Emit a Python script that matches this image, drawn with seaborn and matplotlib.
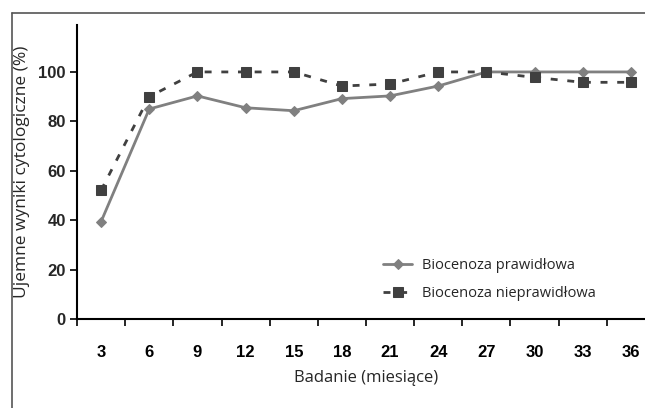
import numpy as np
import pandas as pd
import matplotlib
matplotlib.use("Agg")
import matplotlib.pyplot as plt
import seaborn as sns
from matplotlib.lines import Line2D

months = [3, 6, 9, 12, 15, 18, 21, 24, 27, 30, 33, 36]
prawidlowa = [39.4, 85, 90.3, 85.5, 84.3, 89.2, 90.3, 94.3, 100, 100, 100, 100]
nieprawidlowa = [52.1, 90, 100, 100, 100, 94.3, 95.1, 100, 100, 97.8, 95.8, 95.8]
y_ticks = [0, 20, 40, 60, 80, 100]

sns.set_theme(style="white")
plt.rcParams['font.family'] = ['Liberation Sans Narrow', 'Liberation Sans', 'DejaVu Sans']
plt.rcParams['xtick.bottom'] = True
plt.rcParams['ytick.left'] = True

pos = np.arange(len(months))
df = pd.DataFrame({'pos': pos, 'praw': prawidlowa, 'niepraw': nieprawidlowa})

fig = plt.figure(figsize=(6.45, 4.08), dpi=100)
ax = fig.add_axes([77 / 645, 1 - 319 / 408, (655 - 77) / 645, (319 - 25) / 408])

sns.lineplot(data=df, x='pos', y='praw', ax=ax, color='#808080', lw=2,
             marker='D', markersize=5.5, markeredgecolor='#808080',
             label='Biocenoza prawidłowa')
sns.lineplot(data=df, x='pos', y='niepraw', ax=ax, color='#404040', lw=2,
             marker='s', markersize=7, markeredgecolor='#404040',
             label='Biocenoza nieprawidłowa')
ax.lines[1].set_dashes([2.5, 3.5])

ax.set_xlim(-0.5, len(months) - 0.5)
ax.set_ylim(0, 119)
ax.set_yticks(y_ticks)
ax.set_yticklabels([str(v) for v in y_ticks], fontweight='bold', fontsize=12)
ax.set_xticks(pos)
ax.set_xticklabels([str(m) for m in months], fontweight='bold', fontsize=12)
ax.set_xticks(np.arange(-0.5, len(months), 1), minor=True)
ax.tick_params(axis='x', which='major', length=0, pad=19, colors='black')
ax.tick_params(axis='x', which='minor', length=5, width=1.2, direction='out',
               color='black', bottom=True)
ax.tick_params(axis='y', length=5, width=1.2, direction='out', pad=3, color='black', left=True)

for s in ['top', 'right']:
    ax.spines[s].set_visible(False)
for s in ['left', 'bottom']:
    ax.spines[s].set_color('black')
    ax.spines[s].set_linewidth(1.5)

ax.set_xlabel('Badanie (miesiące)', fontsize=12, family=['Open Sans', 'DejaVu Sans'], labelpad=7)
ax.set_ylabel('Ujemne wyniki cytologiczne (%)', fontsize=12.5, family=['Open Sans', 'DejaVu Sans'])
ax.yaxis.set_label_coords(-47 / 578, 0.5)

ax.legend(loc='lower left', bbox_to_anchor=((370 - 77) / 578, (319 - 314) / 294),
          frameon=False, handlelength=2.0, handletextpad=0.7, labelspacing=0.9,
          prop={'family': ['Open Sans', 'DejaVu Sans'], 'size': 10.5})

# outer frame (left and top edges only, the rest runs off the picture)
x0 = 11.5 / 645
y0 = 1 - 12.5 / 408
fig.add_artist(Line2D([x0, x0], [0, y0], transform=fig.transFigure, color='#555555', lw=1.2))
fig.add_artist(Line2D([x0, 1], [y0, y0], transform=fig.transFigure, color='#555555', lw=1.2))

fig.savefig('out.png', dpi=100)
